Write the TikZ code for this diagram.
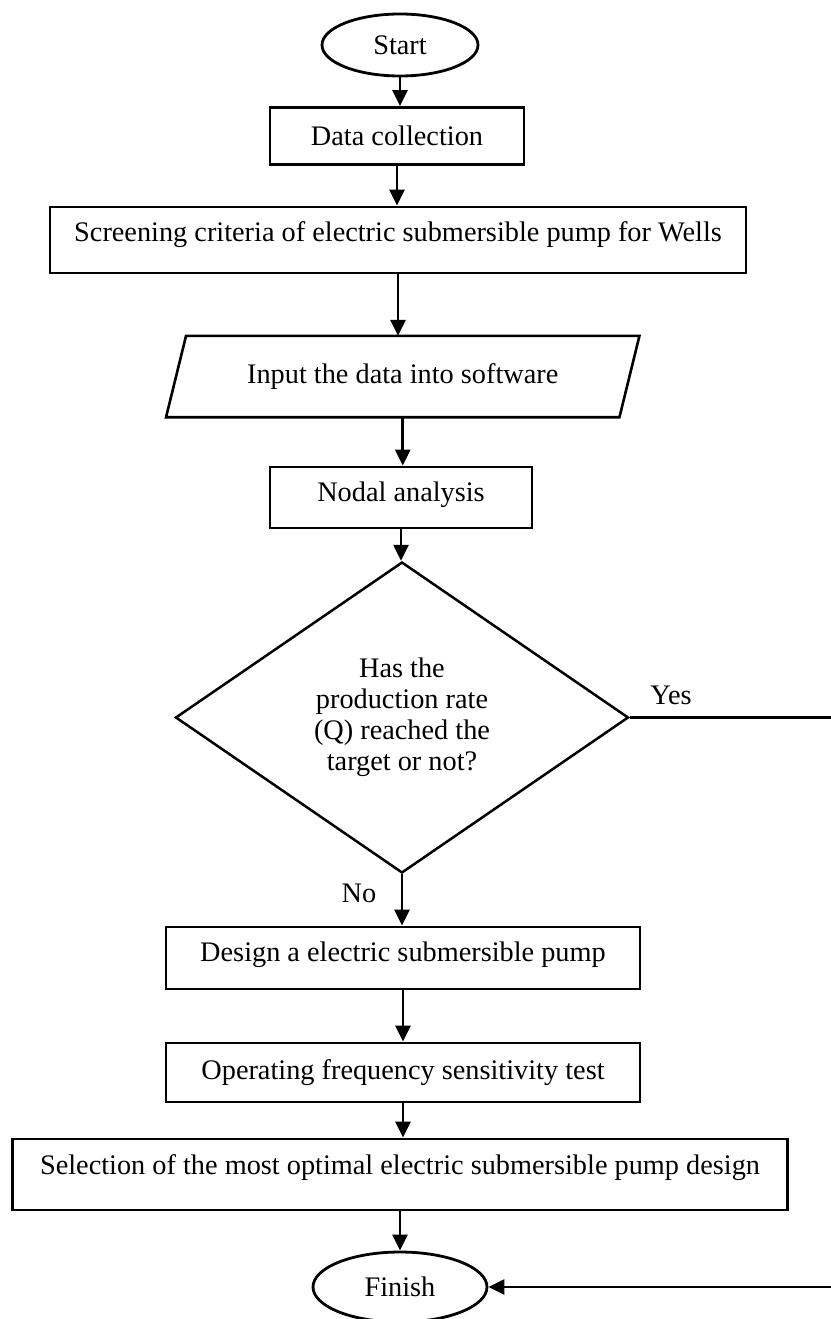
\documentclass[tikz,border=0pt]{standalone}
\usepackage{fontspec}
\setmainfont{Liberation Serif}
\usetikzlibrary{arrows.meta,shapes.geometric,calc}
\begin{document}
\begin{tikzpicture}[x=1pt,y=-1pt,
  every node/.style={font=\fontsize{28.3}{31}\selectfont, inner sep=0pt},
  procbox/.style={draw, line width=2.8pt, rectangle},
  termbox/.style={draw, line width=2.8pt, ellipse},
  decbox/.style={draw, line width=2.5pt, diamond, align=center},
  flowarrow/.style={line width=2.6pt, -{Triangle[length=16pt,width=15pt]}},
  plain/.style={draw=none}]
\useasboundingbox (0,0) rectangle (830,1319);
\fill[white] (0,0) rectangle (830,1319);

\node[termbox, minimum width=156pt, minimum height=62pt] (start) at (400,45) {Start};
\node[procbox, minimum width=254pt, minimum height=57pt] (data) at (397,136) {Data collection};
\node[procbox, minimum width=696pt, minimum height=66pt,
      label={[yshift=5pt]center:Screening criteria of electric submersible pump for Wells}] (screen) at (398,240) {};
\node[plain, minimum width=453pt, minimum height=81pt] (input) at (402.75,376.5) {Input the data into software};
\draw[line width=2.6pt, line join=miter]
  ([xshift=10pt]input.north west) -- ([xshift=10pt]input.north east) --
  ([xshift=-10pt]input.south east) -- ([xshift=-10pt]input.south west) -- cycle;
\node[procbox, minimum width=262pt, minimum height=61pt,
      label={[yshift=3pt]center:Nodal analysis}] (nodal) at (401,497.5) {};
\node[decbox, minimum width=453pt, minimum height=311pt] (dec) at (402,717.5)
  {Has the\\production rate\\(Q) reached the\\target or not?};
\node[procbox, minimum width=474pt, minimum height=62pt,
      label={[yshift=3pt]center:Design a electric submersible pump}] (design) at (403,958) {};
\node[procbox, minimum width=474pt, minimum height=59pt] (oper) at (403,1072.5) {Operating frequency sensitivity test};
\node[procbox, minimum width=775pt, minimum height=71pt,
      label={[yshift=7pt]center:Selection of the most optimal electric submersible pump design}] (select) at (400,1174.5) {};
\node[termbox, minimum width=174pt, minimum height=70pt] (finish) at (400,1287) {Finish};

\node (yes) at (671,695) {Yes};
\node (no) at (359,893) {No};

\draw[flowarrow] (start.south) -- (start.south |- data.north);
\draw[flowarrow] (data.south) -- (data.south |- screen.north);
\draw[flowarrow] (screen.south) -- (screen.south |- input.north);
\draw[flowarrow] (input.south) -- (input.south |- nodal.north);
\draw[flowarrow] (nodal.south) -- (nodal.south |- dec.north);
\draw[flowarrow] (dec.south) -- (dec.south |- design.north);
\draw[flowarrow] (design.south) -- (design.south |- oper.north);
\draw[flowarrow] (oper.south) -- (oper.south |- select.north);
\draw[flowarrow] (select.south) -- (select.south |- finish.north);
\coordinate (rc) at (838,717.5);
\draw[flowarrow] (dec.east) -- (rc) |- (finish.east);
\end{tikzpicture}
\end{document}
